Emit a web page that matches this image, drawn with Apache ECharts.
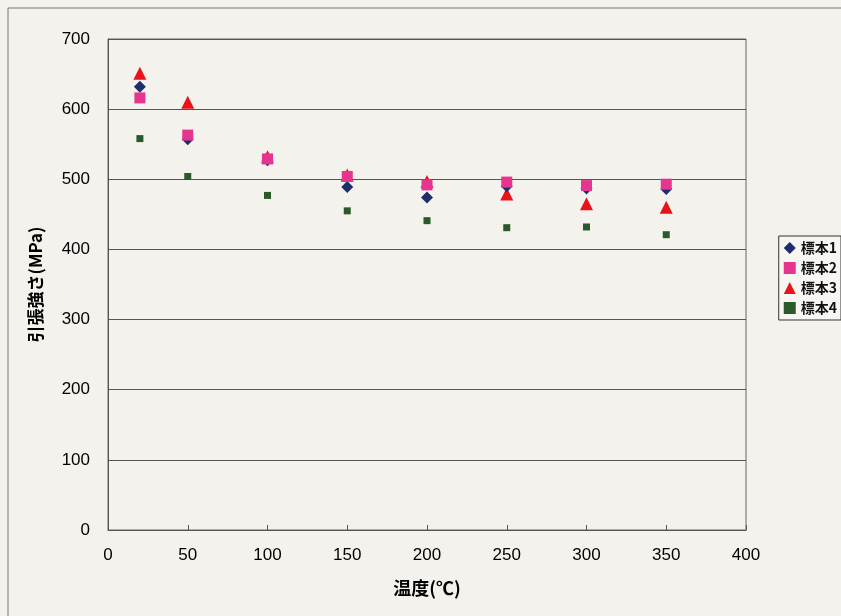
<!DOCTYPE html>
<html><head><meta charset="utf-8">
<script src="https://cdn.jsdelivr.net/npm/echarts@6/dist/echarts.min.js"></script>
<style>html,body{margin:0;padding:0;background:#f4f2ec;}#c{width:841px;height:616px;}</style>
</head><body><div id="c"></div>
<script>
const temps = [20, 50, 100, 150, 200, 250, 300, 350];
const sample1 = [632, 557, 527, 489, 474, 490, 487, 486];
const sample2 = [616, 563, 529, 504, 492, 496, 491, 493];
const sample3 = [651, 610, 532, 506, 497, 479, 465, 460];
const sample4 = [558, 504, 477, 455, 441, 431, 432, 421];
const seriesNames = ['標本1', '標本2', '標本3', '標本4'];
const yTicks = [0, 100, 200, 300, 400, 500, 600, 700];
const xTicks = [0, 50, 100, 150, 200, 250, 300, 350, 400];

const pairs = arr => temps.map((t, i) => [t, arr[i]]);
const tickFont = "'Liberation Sans Narrow','Liberation Sans',Arial,sans-serif";
const cjkFont = "'Noto Sans CJK JP',sans-serif";
const chart = echarts.init(document.getElementById('c'));
chart.setOption({
  backgroundColor: '#f4f2ec',
  animation: false,
  grid: {left: 108, right: 95, top: 39, bottom: 86, show: true, borderColor: '#666', borderWidth: 1, backgroundColor: 'transparent'},
  graphic: [
    {type: 'polyline', shape: {points: [[8, 616], [8, 8], [841, 8]]}, style: {stroke: '#777', lineWidth: 1, fill: null}}
  ],
  legend: {
    orient: 'vertical', right: 0, top: 236, itemWidth: 12, itemHeight: 12, itemGap: 6,
    padding: [5, 4, 5, 5],
    borderColor: '#333', borderWidth: 1, backgroundColor: '#f7f6f2',
    textStyle: {fontFamily: cjkFont, fontSize: 14, color: '#111', fontWeight: 'bold'},
    data: seriesNames
  },
  xAxis: {
    type: 'value', min: 0, max: 400, interval: 50,
    name: '温度(℃)', nameLocation: 'middle', nameGap: 49,
    nameTextStyle: {fontFamily: cjkFont, fontSize: 18, color: '#000', fontWeight: 'bold'},
    axisLine: {show: true, lineStyle: {color: '#555'}},
    axisTick: {show: true, inside: true, length: 5, lineStyle: {color: '#555'}},
    axisLabel: {fontFamily: tickFont, fontSize: 17, color: '#000', margin: 17,
      formatter: v => xTicks.includes(v) ? String(v) : ''},
    splitLine: {show: false}
  },
  yAxis: {
    type: 'value', min: 0, max: 700, interval: 100,
    name: '引張強さ(MPa)', nameLocation: 'middle', nameGap: 64, nameRotate: 90,
    nameTextStyle: {fontFamily: cjkFont, fontSize: 17, color: '#000', fontWeight: 'bold'},
    axisLine: {show: true, lineStyle: {color: '#555'}},
    axisTick: {show: false},
    axisLabel: {fontFamily: tickFont, fontSize: 17, color: '#000', margin: 18,
      formatter: v => yTicks.includes(v) ? String(v) : ''},
    splitLine: {show: true, lineStyle: {color: '#555', width: 1}}
  },
  series: [
    {name: seriesNames[0], type: 'scatter', symbol: 'diamond', symbolSize: 12, itemStyle: {color: '#1e2d6b', opacity: 1}, data: pairs(sample1), z: 2},
    {name: seriesNames[1], type: 'scatter', symbol: 'rect', symbolSize: 11, itemStyle: {color: '#e6358e', opacity: 1}, data: pairs(sample2), z: 3},
    {name: seriesNames[2], type: 'scatter', symbol: 'triangle', symbolSize: 13, itemStyle: {color: '#e8141c', opacity: 1}, data: pairs(sample3), z: 1},
    {name: seriesNames[3], type: 'scatter', symbol: 'rect', symbolSize: 7, itemStyle: {color: '#2b5a2a', opacity: 1}, data: pairs(sample4), z: 2}
  ]
});
</script></body></html>
